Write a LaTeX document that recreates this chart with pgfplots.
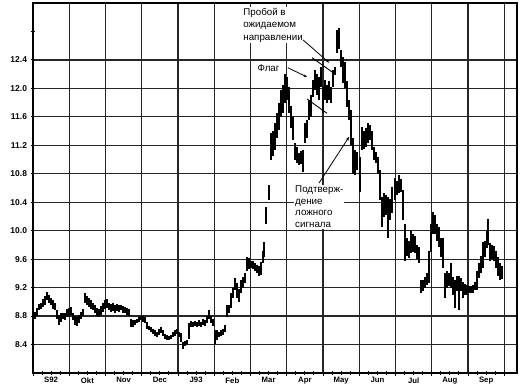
\documentclass[border=0pt]{standalone}
\usepackage{fontspec}
\setmainfont{Liberation Sans}
\usepackage{pgfplots}
\usepackage{pgfplotstable}
\pgfplotsset{compat=1.18}
\usetikzlibrary{arrows.meta}
\pgfplotstableread{
m l h
0.00 8.72 8.85
0.06 8.76 8.86
0.11 8.80 8.92
0.17 8.88 8.97
0.22 8.90 8.99
0.28 8.93 9.04
0.33 8.96 9.08
0.39 9.02 9.14
0.44 8.98 9.10
0.50 8.95 9.06
0.55 8.90 9.02
0.61 8.88 8.98
0.66 8.76 8.88
0.72 8.68 8.82
0.77 8.72 8.84
0.83 8.76 8.85
0.88 8.74 8.84
0.94 8.78 8.90
0.99 8.80 8.92
1.05 8.82 8.93
1.10 8.74 8.85
1.16 8.68 8.80
1.21 8.66 8.78
1.27 8.70 8.82
1.32 8.76 8.86
1.38 8.80 8.90
1.43 8.98 9.13
1.49 8.96 9.08
1.54 8.93 9.05
1.60 8.90 9.02
1.66 8.88 8.98
1.71 8.84 8.96
1.77 8.80 8.92
1.82 8.78 8.90
1.88 8.82 8.94
1.93 8.86 8.98
1.99 8.90 9.02
2.04 8.92 9.04
2.10 8.88 8.98
2.15 8.86 8.97
2.21 8.87 8.99
2.26 8.85 8.95
2.32 8.87 8.97
2.37 8.86 8.96
2.43 8.88 8.96
2.48 8.85 8.94
2.54 8.84 8.93
2.59 8.82 8.92
2.65 8.80 8.90
2.70 8.64 8.76
2.76 8.65 8.74
2.81 8.68 8.74
2.87 8.70 8.76
2.92 8.72 8.78
2.98 8.74 8.80
3.03 8.72 8.80
3.09 8.70 8.78
3.14 8.62 8.72
3.20 8.60 8.66
3.26 8.57 8.64
3.31 8.55 8.62
3.37 8.52 8.60
3.42 8.50 8.58
3.48 8.54 8.62
3.53 8.56 8.64
3.59 8.52 8.60
3.64 8.48 8.55
3.70 8.46 8.53
3.75 8.47 8.52
3.81 8.48 8.54
3.86 8.50 8.57
3.92 8.52 8.60
3.97 8.55 8.62
4.03 8.50 8.58
4.08 8.44 8.56
4.14 8.34 8.44
4.19 8.38 8.45
4.25 8.40 8.46
4.30 8.48 8.70
4.36 8.64 8.73
4.41 8.65 8.72
4.47 8.66 8.73
4.52 8.64 8.72
4.58 8.66 8.74
4.63 8.64 8.72
4.69 8.67 8.76
4.74 8.66 8.74
4.80 8.70 8.80
4.86 8.76 8.88
4.91 8.70 8.80
4.97 8.66 8.76
5.02 8.41 8.60
5.08 8.46 8.60
5.13 8.50 8.58
5.19 8.52 8.60
5.24 8.54 8.62
5.30 8.58 8.68
5.35 8.78 8.95
5.41 8.84 8.96
5.46 8.92 9.12
5.52 9.05 9.20
5.57 9.16 9.33
5.63 9.05 9.26
5.68 9.00 9.18
5.74 9.12 9.30
5.79 9.20 9.35
5.85 9.26 9.40
5.90 9.44 9.63
5.96 9.46 9.62
6.01 9.48 9.58
6.07 9.46 9.57
6.12 9.44 9.55
6.18 9.40 9.52
6.23 9.36 9.50
6.29 9.38 9.56
6.34 9.55 9.72
6.37 9.63 9.84
6.43 10.10 10.33
6.51 10.43 10.64
6.57 10.99 11.37
6.62 11.05 11.40
6.68 11.13 11.51
6.73 11.30 11.65
6.79 11.41 11.79
6.84 11.60 11.98
6.90 11.65 12.05
6.95 11.79 12.20
7.01 11.84 12.16
7.06 11.65 12.02
7.12 11.45 11.75
7.17 11.27 11.60
7.23 10.99 11.23
7.28 10.95 11.17
7.34 10.92 11.09
7.39 10.94 11.12
7.45 10.82 11.13
7.50 11.23 11.51
7.56 11.30 11.55
7.61 11.55 11.84
7.67 11.60 11.90
7.72 11.88 12.12
7.78 11.98 12.26
7.83 11.90 12.20
7.89 11.84 12.16
7.94 12.02 12.30
8.00 11.65 12.02
8.06 11.84 12.12
8.11 11.80 12.05
8.17 11.84 12.10
8.22 11.80 12.02
8.28 12.02 12.26
8.33 12.19 12.30
8.39 12.50 12.82
8.44 12.55 12.85
8.50 12.30 12.54
8.55 12.08 12.44
8.61 12.00 12.37
8.66 11.74 12.10
8.72 11.55 11.84
8.77 11.20 11.70
8.83 10.80 11.30
8.88 10.78 11.13
8.94 10.85 11.10
9.02 10.54 11.03
9.08 11.13 11.46
9.13 11.15 11.40
9.19 11.18 11.45
9.24 11.23 11.51
9.30 11.28 11.48
9.35 11.13 11.40
9.41 10.99 11.17
9.46 10.95 11.10
9.52 10.80 11.03
9.57 10.43 10.85
9.63 10.05 10.47
9.68 10.19 10.53
9.74 10.22 10.50
9.79 9.90 10.47
9.85 10.15 10.45
9.90 10.25 10.61
9.99 10.43 10.74
10.04 10.50 10.70
10.10 10.53 10.78
10.15 10.55 10.72
10.21 10.15 10.57
10.26 9.58 10.10
10.32 9.65 9.90
10.37 9.62 9.85
10.43 9.68 10.00
10.48 9.70 9.95
10.54 9.68 9.92
10.59 9.60 9.80
10.65 9.54 9.77
10.70 9.12 9.30
10.76 9.15 9.30
10.81 9.20 9.35
10.87 9.23 9.40
10.92 9.26 9.72
10.98 9.70 10.10
11.03 9.96 10.26
11.09 9.96 10.22
11.14 9.85 10.10
11.20 9.77 10.05
11.26 9.63 9.90
11.31 9.48 9.90
11.37 9.06 9.40
11.42 9.20 9.44
11.48 9.22 9.40
11.53 9.20 9.54
11.59 9.10 9.35
11.64 8.91 9.30
11.70 9.15 9.37
11.75 8.88 9.37
11.81 9.15 9.33
11.86 9.06 9.28
11.92 9.10 9.25
11.97 9.10 9.23
12.03 9.12 9.22
12.08 9.13 9.22
12.14 9.12 9.23
12.19 9.16 9.28
12.25 9.16 9.44
12.30 9.34 9.55
12.36 9.40 9.65
12.41 9.48 9.84
12.47 9.63 9.86
12.52 9.75 10.00
12.55 9.80 10.17
12.61 9.58 9.82
12.66 9.60 9.80
12.72 9.58 9.78
12.77 9.47 9.72
12.83 9.37 9.63
12.88 9.30 9.54
12.94 9.32 9.50
}\prices
\begin{document}
\begin{tikzpicture}
\useasboundingbox (-33bp,-15bp) rectangle (499bp,373bp);
\begin{axis}[
  scale only axis, width=484bp, height=370bp,
  xmin=0, xmax=13.35, ymin=8.0, ymax=13.2,
  axis line style={line width=1.5bp},
  xtick={0,1,...,13}, xticklabels={},
  minor x tick num=3,
  extra x ticks={0.5,1.5,2.5,3.5,4.5,5.5,6.5,7.5,8.5,9.5,10.5,11.5,12.5},
  extra x tick labels={S92,Okt,Nov,Dec,J93,Feb,Mar,Apr,May,Jun,Jul,Aug,Sep},
  extra x tick style={major tick length=0pt, grid=none,
    tick label style={font=\fontsize{7.8}{8}\selectfont\bfseries, yshift=-1bp}},
  ytick={8.4,8.8,9.2,9.6,10.0,10.4,10.8,11.2,11.6,12.0,12.4},
  yticklabels={8.4,8.8,9.2,9.6,10.0,10.4,10.8,11.2,11.6,12.0,12.4},
  yticklabel style={font=\fontsize{8.5}{9}\selectfont\bfseries},
  extra y ticks={12.8}, extra y tick labels={}, extra y tick style={grid=none},
  grid=major, major grid style={line width=1.2bp, black!85},
  tick style={black, line width=1bp},
  tick align=center, major tick length=5bp, minor tick length=4bp,
  xtick pos=bottom, ytick pos=left,
  clip=false,
]
\addplot[draw=none, mark=none, forget plot,
  error bars/.cd, y dir=minus, y explicit, error mark=none,
  error bar style={draw=black, line width=2.2bp}]
  table[x=m, y=h, y error expr=\thisrow{h}-\thisrow{l}] {\prices};

\node[anchor=north west, fill=white, inner sep=1bp, align=left,
  font=\fontsize{9.8}{12.3}\selectfont] at (axis cs:5.77,13.14)
  {Пробой в\\ожидаемом\\направлении};
\node[anchor=west, fill=white, inner sep=1.5bp,
  font=\fontsize{9.8}{12}\selectfont] at (axis cs:6.15,12.29) {Флаг};
\node[anchor=north west, fill=white, inner sep=1bp, align=left,
  font=\fontsize{9.8}{11.8}\selectfont] at (axis cs:7.20,10.65)
  {Подтверж-\\дение\\ложного\\сигнала};
\draw[line width=0.8bp, -{Stealth[length=3.5bp,width=2.5bp]}]
  (axis cs:7.45,12.68) -- (axis cs:8.17,12.36);
\draw[line width=0.8bp, -{Stealth[length=3.5bp,width=2.5bp]}]
  (axis cs:7.03,12.29) -- (axis cs:7.56,12.16);
\draw[line width=0.9bp] (axis cs:7.70,12.43) -- (axis cs:8.28,12.22);
\draw[line width=0.9bp] (axis cs:7.56,11.85) -- (axis cs:8.11,11.65);
\draw[line width=0.8bp, -{Stealth[length=4bp,width=3bp]}]
  (axis cs:7.89,10.67) -- (axis cs:8.72,11.32);
\end{axis}
\end{tikzpicture}
\end{document}
